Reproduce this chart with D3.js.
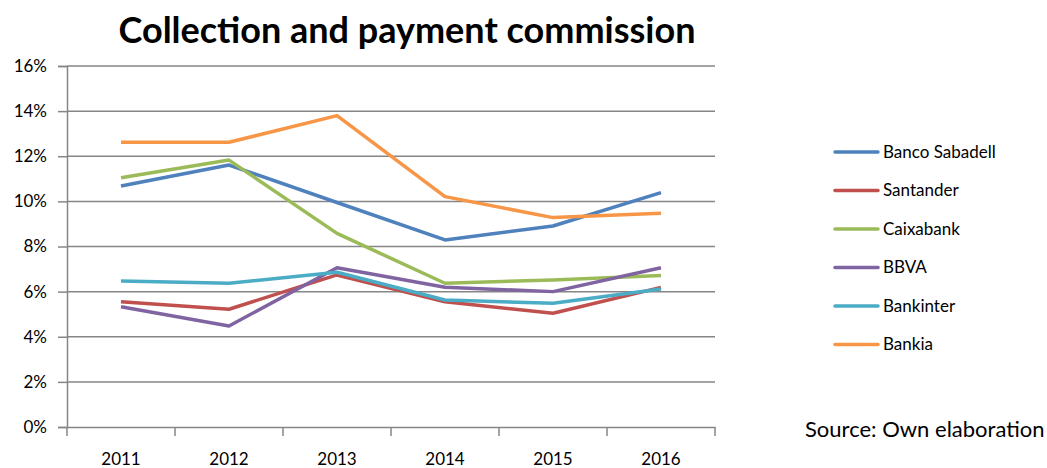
<!DOCTYPE html>
<html>
<head>
<meta charset="utf-8">
<script src="https://cdn.jsdelivr.net/npm/d3@7"></script>
<style>
  body { margin: 0; background: #fff; }
  text { font-family: Lato, "Open Sans", sans-serif; }
</style>
</head>
<body>
<div id="chart"></div>
<script>
// values, in percent
var years = ["2011", "2012", "2013", "2014", "2015", "2016"];
var banks = ["Banco Sabadell", "Santander", "Caixabank", "BBVA", "Bankinter", "Bankia"];
var sabadell  = [10.68, 11.61, 9.95, 8.29, 8.91, 10.39];
var santander = [5.55, 5.22, 6.74, 5.55, 5.04, 6.19];
var caixabank = [11.05, 11.83, 8.58, 6.37, 6.52, 6.71];
var bbva      = [5.33, 4.48, 7.06, 6.19, 6.0, 7.06];
var bankinter = [6.47, 6.37, 6.86, 5.63, 5.48, 6.12];
var bankia    = [12.62, 12.62, 13.8, 10.21, 9.28, 9.47];
var yTicks = [0, 2, 4, 6, 8, 10, 12, 14, 16];
var colors = ["#4F81BD", "#C0504D", "#9BBB59", "#8064A2", "#4BACC6", "#F79646"];

var series = [sabadell, santander, caixabank, bbva, bankinter, bankia];

var width = 1047, height = 468;
var margin = {top: 66, left: 67, right: 332, bottom: 41};

var svg = d3.select("#chart").append("svg")
    .attr("width", width)
    .attr("height", height);

var x = d3.scaleBand().domain(years).range([margin.left, width - margin.right]);
var y = d3.scaleLinear().domain([0, 16]).range([height - margin.bottom, margin.top]);

svg.append("text")
    .attr("x", 407).attr("y", 43)
    .attr("text-anchor", "middle")
    .style("font-weight", "bold")
    .style("font-size", "36px")
    .text("Collection and payment commission");

// gridlines + y axis
var yAxis = svg.append("g")
    .attr("transform", "translate(" + margin.left + ",0)")
    .call(d3.axisLeft(y).tickValues(yTicks).tickSize(9).tickPadding(11)
        .tickFormat(function (d) { return d + "%"; }));
yAxis.select(".domain").attr("stroke", "#868686").attr("stroke-width", 1.5);
yAxis.selectAll(".tick line").attr("stroke", "#868686").attr("stroke-width", 1.5);
yAxis.selectAll(".tick text").style("font-size", "17px").attr("fill", "#000");

svg.append("g").selectAll("line").data(yTicks.slice(1)).enter().append("line")
    .attr("x1", margin.left).attr("x2", width - margin.right)
    .attr("y1", function (d) { return y(d); }).attr("y2", function (d) { return y(d); })
    .attr("stroke", "#868686").attr("stroke-width", 1.5);

// x axis
var xAxis = svg.append("g")
    .attr("transform", "translate(0," + y(0) + ")")
    .call(d3.axisBottom(x).tickSize(0).tickPadding(26));
xAxis.select(".domain").attr("stroke", "#868686").attr("stroke-width", 1.5);
xAxis.selectAll(".tick text").style("font-size", "17px").attr("fill", "#000");
var edges = years.map(function (d) { return x(d); }).concat([x.range()[1]]);
xAxis.selectAll(".edge").data(edges).enter().append("line")
    .attr("class", "edge")
    .attr("x1", function (d) { return d; }).attr("x2", function (d) { return d; })
    .attr("y1", 0).attr("y2", 9)
    .attr("stroke", "#868686").attr("stroke-width", 1.5);

// lines
var line = d3.line()
    .x(function (d, i) { return x(years[i]) + x.bandwidth() / 2; })
    .y(function (d) { return y(d); });

svg.append("g").selectAll("path").data(series).enter().append("path")
    .attr("d", line)
    .attr("fill", "none")
    .attr("stroke", function (d, i) { return colors[i]; })
    .attr("stroke-width", 3.5)
    .attr("stroke-linejoin", "round");

// legend
var legend = svg.append("g").selectAll("g").data(banks).enter().append("g")
    .attr("transform", function (d, i) { return "translate(835," + (152 + i * 38.5) + ")"; });
legend.append("line")
    .attr("x1", 0).attr("x2", 43)
    .attr("stroke", function (d, i) { return colors[i]; })
    .attr("stroke-width", 3.5).attr("stroke-linecap", "round");
legend.append("text")
    .attr("x", 48).attr("dy", "0.35em")
    .style("font-size", "17px")
    .text(function (d) { return d; });

svg.append("text")
    .attr("x", 805).attr("y", 437)
    .style("font-size", "22px")
    .text("Source: Own elaboration");
</script>
</body>
</html>
